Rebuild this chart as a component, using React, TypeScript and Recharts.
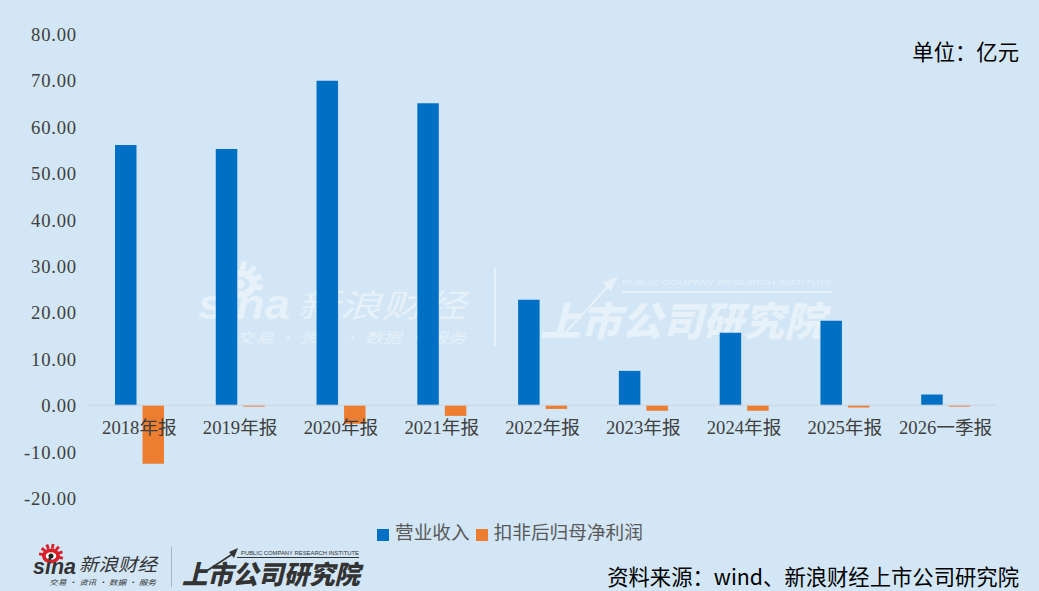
import { BarChart, Bar, XAxis, YAxis, Legend, ReferenceLine } from 'recharts'

const categories = ['2018年报', '2019年报', '2020年报', '2021年报', '2022年报', '2023年报', '2024年报', '2025年报', '2026一季报']
const revenue = [56.1, 55.2, 69.9, 65.1, 22.7, 7.4, 15.6, 18.2, 2.3]
const netProfit = [-12.6, -0.3, -4.0, -2.3, -0.8, -1.2, -1.2, -0.5, -0.3]
const yTicks = [-20, -10, 0, 10, 20, 30, 40, 50, 60, 70, 80]

const data = categories.map((name, i) => ({
  name,
  营业收入: revenue[i],
  扣非后归母净利润: netProfit[i],
}))

const BG = '#D2E6F5'
const TICK_FONT = '"Liberation Serif", "Noto Sans CJK SC", serif'
const CJK_FONT = '"Noto Sans CJK SC", sans-serif'
const RAY_ANGLES = [-80, -50, -20, 10, 40, 70, 100]

// 分类标签放在 0 轴下方，不在图的底部
function CategoryTick({ x, payload }: any) {
  return (
    <text x={x} y={434} textAnchor="middle" fontFamily={TICK_FONT} fontSize={18.67} fill="#404040">
      {payload.value}
    </text>
  )
}

function ValueTick({ x, y, payload }: any) {
  return (
    <text x={x - 1} y={y + 7} textAnchor="end" fontFamily={TICK_FONT} fontSize={18.67} fill="#404040" letterSpacing={0.8}>
      {payload.value.toFixed(2)}
    </text>
  )
}

// 新浪的眼睛图标
function Eye({ cx, cy, r, color, ring, pupil }: any) {
  return (
    <g>
      {RAY_ANGLES.map(a => (
        <rect key={a} x={cx - r * 0.16} y={cy - r * 1.35} width={r * 0.32} height={r * 0.5} fill={color} transform={`rotate(${a} ${cx} ${cy})`} />
      ))}
      <ellipse cx={cx} cy={cy} rx={r} ry={r * 0.82} fill={color} />
      <ellipse cx={cx} cy={cy} rx={r * 0.58} ry={r * 0.42} fill={ring} />
      <circle cx={cx} cy={cy} r={r * 0.28} fill={pupil} />
    </g>
  )
}

// 水印和底部 logo，画在图表下层
function Brand() {
  return (
    <svg width={1039} height={591} style={{ position: 'absolute', left: 0, top: 0 }}>
      {/* 水印 */}
      <Eye cx={240} cy={284} r={17} color="#E6F1F9" ring={BG} pupil="#E6F1F9" />
      <g fill="#E6F1F9" fontFamily={CJK_FONT}>
        <text x={198} y={319} fontFamily="Arial, Liberation Sans" fontWeight={700} fontStyle="italic" fontSize={42} textLength={92} lengthAdjust="spacingAndGlyphs">sina</text>
        <text x={297} y={317} fontSize={32} fontStyle="italic" textLength={169} lengthAdjust="spacingAndGlyphs">新浪财经</text>
        <text x={236} y={343} fontSize={14} fontStyle="italic" textLength={230} lengthAdjust="spacingAndGlyphs">交易 · 资讯 · 数据 · 服务</text>
        <rect x={494} y={268} width={2} height={78} />
        <text x={540} y={336} fontSize={40} fontWeight={900} fontStyle="italic" textLength={285} lengthAdjust="spacingAndGlyphs">上市公司研究院</text>
        <text x={622} y={285} fontFamily="Arial, Liberation Sans" fontSize={8} textLength={210} lengthAdjust="spacingAndGlyphs">PUBLIC COMPANY RESEARCH INSTITUTE</text>
        <rect x={622} y={291} width={210} height={2} />
      </g>
      <line x1={566} y1={332} x2={612} y2={282} stroke="#E6F1F9" strokeWidth={2} />
      <polygon points="618,276 603,283 611,291" fill="#E6F1F9" />
      {/* 底部 logo */}
      <Eye cx={51} cy={556} r={9} color="#D9202A" ring="#FFFFFF" pupil="#222222" />
      <g fill="#333333" fontFamily={CJK_FONT}>
        <text x={33} y={574} fontFamily="Arial, Liberation Sans" fontWeight={700} fontStyle="italic" fontSize={22} textLength={43} lengthAdjust="spacingAndGlyphs">sina</text>
        <text x={79} y={571} fontSize={18} fontStyle="italic" textLength={78} lengthAdjust="spacingAndGlyphs">新浪财经</text>
        <text x={49} y={585} fontSize={7} fontStyle="italic" textLength={107} lengthAdjust="spacingAndGlyphs">交易 · 资讯 · 数据 · 服务</text>
        <text x={182} y={584} fontSize={26} fontWeight={900} fontStyle="italic" textLength={178} lengthAdjust="spacingAndGlyphs">上市公司研究院</text>
        <text x={241} y={555} fontFamily="Arial, Liberation Sans" fontSize={5} textLength={118} lengthAdjust="spacingAndGlyphs">PUBLIC COMPANY RESEARCH INSTITUTE</text>
        <rect x={237} y={557} width={122} height={1} />
      </g>
      <line x1={205} y1={572} x2={234} y2={553} stroke="#333333" strokeWidth={1.5} />
      <polygon points="238,548 229,552 234,558" fill="#333333" />
      <rect x={171} y={547} width={1} height={40} fill="#AAB4BC" />
    </svg>
  )
}

export default function App() {
  return (
    <div style={{ position: 'fixed', left: 0, top: 0, width: 1039, height: 591, background: BG, overflow: 'hidden' }}>
      <Brand />
      <div style={{ position: 'absolute', left: 0, top: 0 }}>
        <BarChart
          width={1039}
          height={591}
          data={data}
          margin={{ top: 34, right: 43, bottom: 36, left: 1 }}
          barSize={21.5}
          barGap={6}
        >
          <XAxis dataKey="name" height={30} axisLine={false} tickLine={false} tick={<CategoryTick />} interval={0} />
          <YAxis width={88} domain={[-20, 80]} ticks={yTicks} axisLine={false} tickLine={false} tick={<ValueTick />} tickMargin={5} />
          <ReferenceLine y={0} stroke="#D0D3DC" strokeWidth={1} />
          <Legend
            height={0}
            align="left"
            iconType="square"
            iconSize={12}
            itemSorter={null}
            formatter={(value: string) => (
              <span style={{ color: '#595959', fontSize: 18.67, fontFamily: TICK_FONT, marginLeft: 2, marginRight: -4, whiteSpace: 'nowrap' }}>{value}</span>
            )}
            wrapperStyle={{ position: 'absolute', left: 377, top: 517, width: 400, bottom: 'auto', whiteSpace: 'nowrap' }}
          />
          <Bar dataKey="营业收入" fill="#0070C5" isAnimationActive={false} />
          <Bar dataKey="扣非后归母净利润" fill="#ED7D31" isAnimationActive={false} />
        </BarChart>
      </div>
      <div style={{ position: 'absolute', right: 20, top: 36, fontFamily: CJK_FONT, fontSize: 21.33, lineHeight: '30px', color: '#000' }}>单位：亿元</div>
      <div style={{ position: 'absolute', right: 20, top: 561, fontFamily: CJK_FONT, fontSize: 21.33, lineHeight: '30px', color: '#000', whiteSpace: 'nowrap' }}>资料来源：wind、新浪财经上市公司研究院</div>
    </div>
  )
}
